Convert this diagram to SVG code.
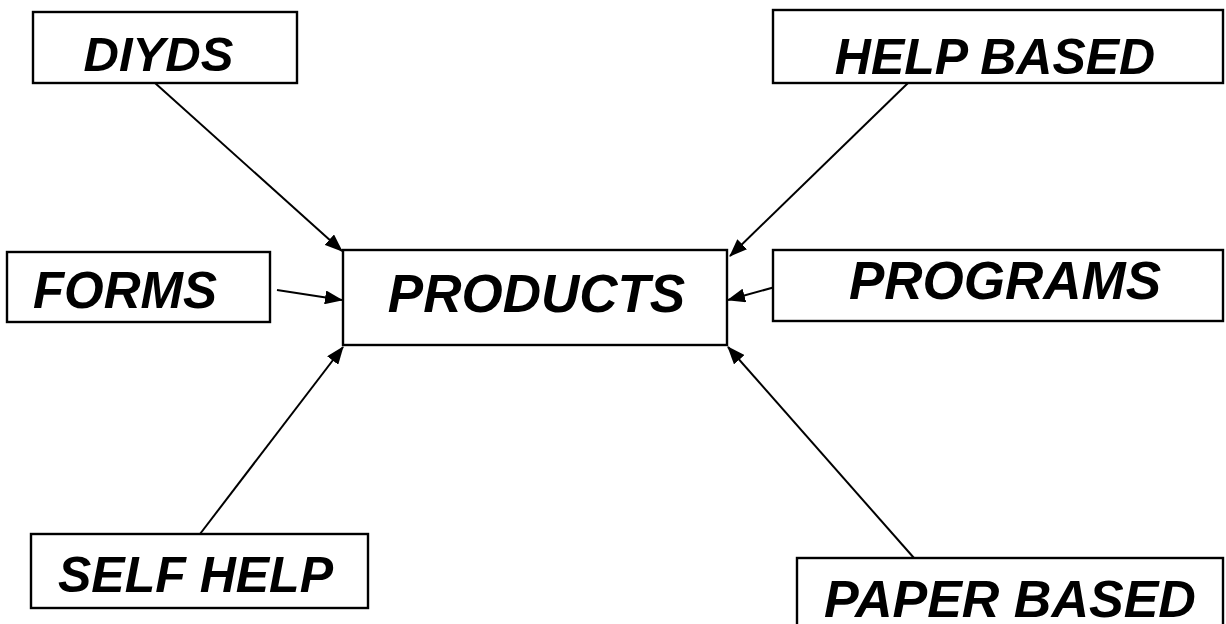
<svg xmlns="http://www.w3.org/2000/svg" width="1226" height="624" viewBox="0 0 1226 624">
<style>
.box{fill:#fff;stroke:#000;stroke-width:2.4}
.lbl{font-family:"Liberation Sans",Arial,sans-serif;font-weight:bold;font-style:italic;fill:#000;text-anchor:middle}
.con{stroke:#000;stroke-width:2;fill:none;marker-end:url(#ah)}
</style>
<defs>
<marker id="ah" markerWidth="18" markerHeight="14" refX="17" refY="7" orient="auto" markerUnits="userSpaceOnUse">
<path d="M0,0 L18,7 L0,14 Z" fill="#000"/>
</marker>
</defs>
<rect width="1226" height="624" fill="#fff"/>
<g id="connectors">
<line class="con" x1="155" y1="83" x2="342" y2="251"/>
<line class="con" x1="908" y1="83" x2="730" y2="256"/>
<line class="con" x1="277" y1="290" x2="342" y2="300"/>
<line class="con" x1="775" y1="287" x2="728" y2="300"/>
<line class="con" x1="200" y1="534" x2="343" y2="347"/>
<line class="con" x1="914" y1="558" x2="728" y2="347"/>
</g>
<g id="n-diyds">
<rect class="box" x="33" y="12" width="264" height="71"/>
<text class="lbl" x="158.5" y="71" font-size="49">DIYDS</text>
</g>
<g id="n-helpbased">
<rect class="box" x="773" y="10" width="450" height="73"/>
<text class="lbl" x="995" y="74" font-size="50">HELP BASED</text>
</g>
<g id="n-forms">
<rect class="box" x="7" y="252" width="263" height="70"/>
<text class="lbl" x="125" y="308" font-size="51">FORMS</text>
</g>
<g id="n-products">
<rect class="box" x="343" y="250" width="384" height="95"/>
<text class="lbl" x="536.5" y="312" font-size="53">PRODUCTS</text>
</g>
<g id="n-programs">
<rect class="box" x="773" y="250" width="450" height="71"/>
<text class="lbl" x="1005" y="299" font-size="53">PROGRAMS</text>
</g>
<g id="n-selfhelp">
<rect class="box" x="31" y="534" width="337" height="74"/>
<text class="lbl" x="195.5" y="592" font-size="50">SELF HELP</text>
</g>
<g id="n-paperbased">
<rect class="box" x="797" y="558" width="426" height="80"/>
<text class="lbl" x="1010" y="617" font-size="52">PAPER BASED</text>
</g>
</svg>
